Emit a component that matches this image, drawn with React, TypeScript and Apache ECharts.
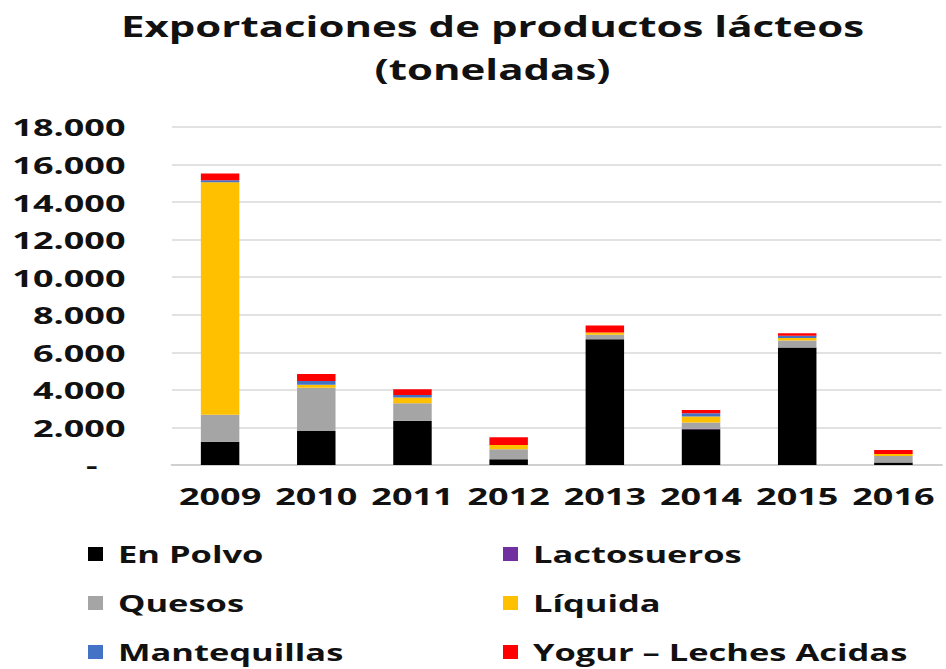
import React, { useEffect, useRef } from "react";
import * as echarts from "echarts";

const years = ["2009", "2010", "2011", "2012", "2013", "2014", "2015", "2016"];
const enPolvo = [1240, 1810, 2350, 300, 6700, 1900, 6260, 130];
const lactosueros = [0, 0, 0, 0, 0, 30, 0, 0];
const quesos = [1430, 2310, 940, 540, 230, 330, 370, 350];
const liquida = [12390, 150, 300, 230, 130, 320, 130, 110];
const mantequillas = [100, 210, 140, 0, 0, 180, 120, 0];
const yogur = [360, 370, 310, 410, 370, 170, 140, 210];

const FONT = "'Open Sans', 'DejaVu Sans', sans-serif";
const SX = 1.5;
const W = 946 / SX;

export default function App() {
  const ref = useRef<HTMLDivElement>(null);
  useEffect(() => {
    const chart = echarts.init(ref.current!, undefined, { renderer: "svg" });
    const mk = (name: string, data: number[], color: string) => ({
      name,
      type: "bar",
      stack: "total",
      data,
      barWidth: "40%",
      itemStyle: { color },
    });
    const legendText = {
      fontFamily: FONT,
      fontWeight: "bold",
      fontSize: 23,
      color: "#111",
      lineHeight: 24,
      padding: [0, 0, 0, 5],
    };
    const legendBase = {
      orient: "vertical",
      top: 542,
      padding: 0,
      height: 124,
      itemWidth: 10,
      itemHeight: 14,
      itemGap: 25,
      icon: "rect",
      textStyle: legendText,
    };
    chart.setOption({
      animation: false,
      backgroundColor: "#fff",
      title: {
        text: "Exportaciones de productos lácteos\n(toneladas)",
        left: 485 / SX,
        textAlign: "center",
        top: 0,
        textStyle: { fontFamily: FONT, fontWeight: "bold", fontSize: 28, color: "#111", lineHeight: 43 },
      },
      grid: { left: 172 / SX, right: 5 / SX, top: 127, bottom: 204, containLabel: false },
      xAxis: {
        type: "category",
        data: years,
        axisTick: { show: false },
        axisLine: { lineStyle: { color: "#d0d0d0", width: 2 } },
        axisLabel: { interval: 0, fontFamily: FONT, fontWeight: "bold", fontSize: 24, color: "#111", margin: 19 },
      },
      yAxis: {
        type: "value",
        min: 0,
        max: 18000,
        interval: 2000,
        axisLine: { show: false },
        axisTick: { show: false },
        splitLine: { lineStyle: { color: "#d9d9d9", width: 1.5 } },
        axisLabel: {
          fontFamily: FONT,
          fontWeight: "bold",
          fontSize: 24,
          color: "#111",
          margin: 31,
          formatter: (v: number) => (v === 0 ? "-   " : v.toLocaleString("de-DE")),
        },
      },
      legend: [
        { ...legendBase, data: ["En Polvo", "Quesos", "Mantequillas"], left: 88 / SX },
        { ...legendBase, data: ["Lactosueros", "Líquida", "Yogur – Leches Acidas"], left: 503 / SX },
      ],
      series: [
        mk("En Polvo", enPolvo, "#000000"),
        mk("Lactosueros", lactosueros, "#7030a0"),
        mk("Quesos", quesos, "#a5a5a5"),
        mk("Líquida", liquida, "#ffc000"),
        mk("Mantequillas", mantequillas, "#4472c4"),
        mk("Yogur – Leches Acidas", yogur, "#ff0000"),
      ],
    });
    return () => chart.dispose();
  }, []);
  return (
    <div
      ref={ref}
      style={{
        width: W,
        height: 669,
        position: "absolute",
        left: 0,
        top: 0,
        transform: `scaleX(${SX})`,
        transformOrigin: "0 0",
      }}
    />
  );
}
